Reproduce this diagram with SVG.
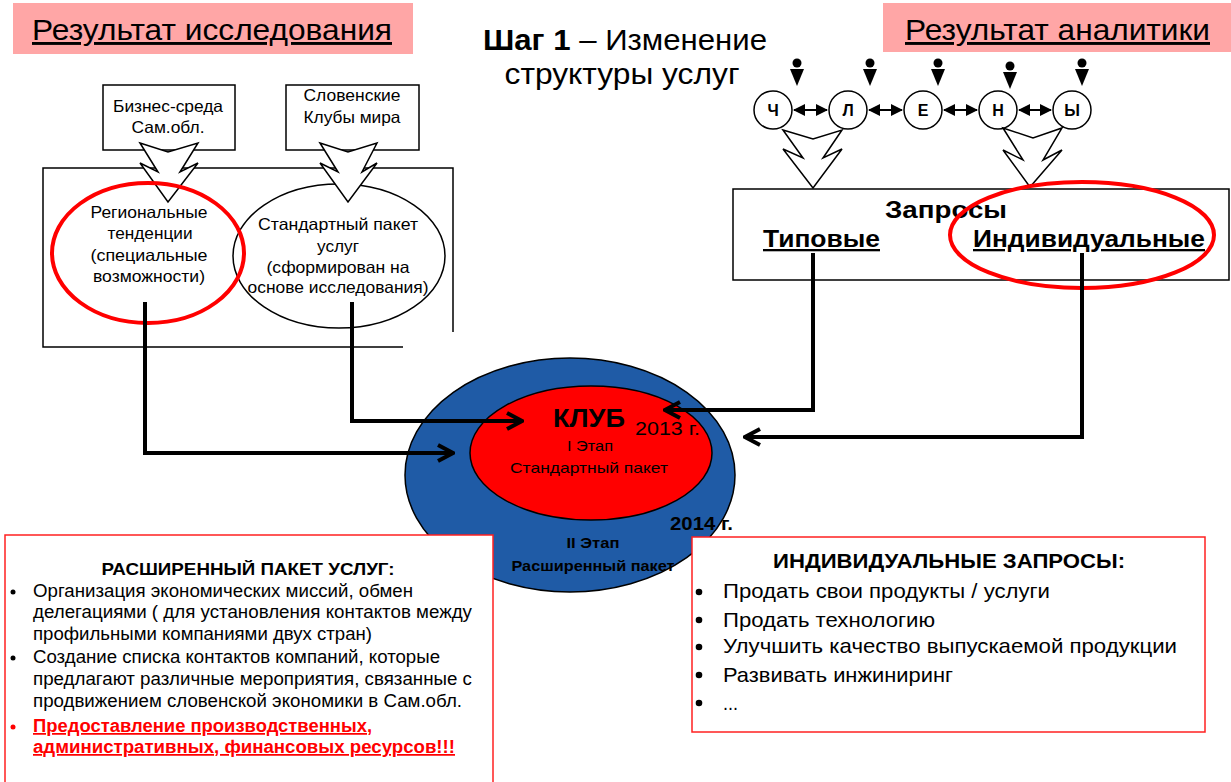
<svg xmlns="http://www.w3.org/2000/svg" width="1231" height="782" viewBox="0 0 1231 782">
<style>
text{font-family:"Liberation Sans",Arial,sans-serif;fill:#000}
.hdr{font-size:29px}
.sm{font-size:16.5px}
.b{font-weight:bold}
.c{text-anchor:middle}
.box{fill:#fff;stroke:#000;stroke-width:1.5}
.thin{fill:none;stroke:#000;stroke-width:1.5}
.blk{fill:#fff;stroke:#000;stroke-width:1.5;stroke-linejoin:miter}
.redring{fill:none;stroke:#ff0000;stroke-width:4}
.conn{fill:none;stroke:#000;stroke-width:4}
.dbl{fill:none;stroke:#000;stroke-width:2}
.circ{fill:#fff;stroke:#000;stroke-width:1.5}
.lst{font-size:17.5px}
.lst2{font-size:21px}
.red{fill:#ff0000}
.panel{fill:#fff;stroke:#ff2020;stroke-width:1.5}
</style>
<defs>
<marker id="ah" markerUnits="userSpaceOnUse" viewBox="0 0 20 20" markerWidth="20" markerHeight="20" refX="18" refY="10" orient="auto">
<path d="M3,2 L18,10 L3,18" fill="none" stroke="#000" stroke-width="4"/>
</marker>
<marker id="sh" markerUnits="userSpaceOnUse" viewBox="0 0 12 12" markerWidth="12" markerHeight="12" refX="11" refY="6" orient="auto-start-reverse">
<path d="M0,0 L12,6 L0,12 Z" fill="#000"/>
</marker>
<g id="person">
<circle cx="0" cy="0" r="4.5" fill="#000"/>
<polygon points="-7,6 7,6 0,23" fill="#000"/>
</g>
</defs>
<rect width="1231" height="782" fill="#fff"/>

<!-- headers -->
<g id="hdr-left">
<rect x="13" y="3" width="400" height="51" fill="#ffa6a6"/>
<text class="hdr" x="32" y="40" textLength="360" lengthAdjust="spacingAndGlyphs" text-decoration="underline">Результат исследования</text>
</g>
<g id="hdr-right">
<rect x="883" y="3" width="348" height="49" fill="#ffa6a6"/>
<text class="hdr" x="905" y="40" textLength="305" lengthAdjust="spacingAndGlyphs" text-decoration="underline">Результат аналитики</text>
</g>
<g id="title">
<text class="hdr c" x="625" y="50" textLength="284" lengthAdjust="spacingAndGlyphs"><tspan class="b">Шаг  1</tspan> – Изменение</text>
<text class="hdr c" x="622" y="84" textLength="235" lengthAdjust="spacingAndGlyphs">структуры услуг</text>
</g>

<!-- left research block -->
<g id="frame-left">
<path class="thin" d="M403,347 H43 V168 H453 V332"/>
</g>
<g id="ellipse-standard">
<ellipse cx="339" cy="256" rx="106" ry="72" class="thin" fill="#fff"/>
</g>
<g id="box-business">
<rect class="box" x="103" y="85" width="132" height="65"/>
<text class="sm c" x="168" y="112" textLength="110" lengthAdjust="spacingAndGlyphs">Бизнес-среда</text>
<text class="sm c" x="168" y="133" textLength="73" lengthAdjust="spacingAndGlyphs">Сам.обл.</text>
</g>
<g id="box-clubs">
<rect class="box" x="286" y="85" width="133" height="65"/>
<text class="sm c" x="352" y="101" textLength="97" lengthAdjust="spacingAndGlyphs">Словенские</text>
<text class="sm c" x="352" y="123" textLength="97" lengthAdjust="spacingAndGlyphs">Клубы мира</text>
</g>
<g id="blockarrows-left">
<polygon class="blk" points="140,143 168,152 198,143 180,172 198,163 168,202 140,163 158,172"/>
<polygon class="blk" points="320,143 348,152 377,143 362,172 377,163 348,202 320,163 338,172"/>
</g>
<g id="node-standard-text">
<text class="sm c" x="338" y="230" textLength="160" lengthAdjust="spacingAndGlyphs">Стандартный пакет</text>
<text class="sm c" x="338" y="252" textLength="42" lengthAdjust="spacingAndGlyphs">услуг</text>
<text class="sm c" x="338" y="273" textLength="143" lengthAdjust="spacingAndGlyphs">(сформирован на</text>
<text class="sm c" x="338" y="293" textLength="181" lengthAdjust="spacingAndGlyphs">основе исследования)</text>
</g>
<g id="node-regional">
<ellipse cx="148" cy="253" rx="96" ry="70" class="redring"/>
<text class="sm c" x="149" y="218" textLength="117" lengthAdjust="spacingAndGlyphs">Региональные</text>
<text class="sm c" x="150" y="239" textLength="85" lengthAdjust="spacingAndGlyphs">тенденции</text>
<text class="sm c" x="149" y="261" textLength="117" lengthAdjust="spacingAndGlyphs">(специальные</text>
<text class="sm c" x="149" y="282" textLength="112" lengthAdjust="spacingAndGlyphs">возможности)</text>
</g>

<!-- right analytics block -->
<g id="persons">
<use href="#person" x="797" y="63"/>
<use href="#person" x="870" y="63"/>
<use href="#person" x="938" y="63"/>
<use href="#person" x="1010" y="66"/>
<use href="#person" x="1082" y="63"/>
</g>
<g id="circle-ch"><circle class="circ" cx="773" cy="110" r="19"/><text class="b c" style="font-size:16px" x="773" y="116">Ч</text></g>
<g id="circle-l"><circle class="circ" cx="848" cy="110" r="19"/><text class="b c" style="font-size:16px" x="848" y="116">Л</text></g>
<g id="circle-e"><circle class="circ" cx="923" cy="110" r="19"/><text class="b c" style="font-size:16px" x="923" y="116">Е</text></g>
<g id="circle-n"><circle class="circ" cx="998" cy="110" r="19"/><text class="b c" style="font-size:16px" x="998" y="116">Н</text></g>
<g id="circle-y"><circle class="circ" cx="1072" cy="110" r="19"/><text class="b c" style="font-size:16px" x="1072" y="116">Ы</text></g>
<g id="box-requests">
<rect class="box" x="733" y="189" width="496" height="91"/>
<text class="b c" x="946" y="218" style="font-size:24px" textLength="122" lengthAdjust="spacingAndGlyphs">Запросы</text>
<text class="b" x="763" y="247" style="font-size:23px" textLength="117" lengthAdjust="spacingAndGlyphs" text-decoration="underline">Типовые</text>
<text class="b" x="973" y="247" style="font-size:23px" textLength="232" lengthAdjust="spacingAndGlyphs" text-decoration="underline">Индивидуальные</text>
</g>
<g id="blockarrows-right">
<polygon class="blk" points="783,130 813,139 842,130 823,158 842,149 813,188 783,149 803,158"/>
<polygon class="blk" points="1003,128 1033,138 1062,128 1043,160 1062,150 1030,187 1003,150 1023,160"/>
</g>
<g id="ring-individual">
<ellipse cx="1082" cy="235" rx="132" ry="53" class="redring"/>
</g>

<!-- club -->
<g id="node-club">
<ellipse cx="570" cy="475" rx="165" ry="117" fill="#1f5ba6" stroke="#000" stroke-width="1.5"/>
<ellipse cx="591" cy="453" rx="121" ry="67" fill="#ff0000" stroke="#000" stroke-width="1.5"/>
<text class="b c" x="589" y="427" style="font-size:26px" textLength="72" lengthAdjust="spacingAndGlyphs">КЛУБ</text>
<text x="635" y="435" style="font-size:18px" textLength="65" lengthAdjust="spacingAndGlyphs">2013 г.</text>
<text class="c" x="590" y="451" style="font-size:15px" textLength="46" lengthAdjust="spacingAndGlyphs">I Этап</text>
<text class="c" x="589" y="473" style="font-size:15px" textLength="158" lengthAdjust="spacingAndGlyphs">Стандартный пакет</text>
<text class="b" x="670" y="530" style="font-size:18px" textLength="63" lengthAdjust="spacingAndGlyphs">2014 г.</text>
<text class="b c" x="593" y="548" style="font-size:15px" textLength="53" lengthAdjust="spacingAndGlyphs">II Этап</text>
<text class="b c" x="593" y="571" style="font-size:15px" textLength="163" lengthAdjust="spacingAndGlyphs">Расширенный пакет</text>
</g>

<!-- connectors -->
<g id="connectors">
<polyline class="conn" points="145,302 145,453 453,453" marker-end="url(#ah)"/>
<polyline class="conn" points="352,302 352,421 522,421" marker-end="url(#ah)"/>
<polyline class="conn" points="813,253 813,410 665,410" marker-end="url(#ah)"/>
<polyline class="conn" points="1082,253 1082,437 745,437" marker-end="url(#ah)"/>
<line class="dbl" x1="794" y1="110" x2="827" y2="110" marker-start="url(#sh)" marker-end="url(#sh)"/>
<line class="dbl" x1="869" y1="110" x2="902" y2="110" marker-start="url(#sh)" marker-end="url(#sh)"/>
<line class="dbl" x1="944" y1="110" x2="977" y2="110" marker-start="url(#sh)" marker-end="url(#sh)"/>
<line class="dbl" x1="1019" y1="110" x2="1051" y2="110" marker-start="url(#sh)" marker-end="url(#sh)"/>
</g>

<!-- bottom panels -->
<g id="panel-extended">
<rect class="panel" x="5" y="535" width="488" height="260"/>
<text class="b c" x="248" y="575" style="font-size:17px" textLength="293" lengthAdjust="spacingAndGlyphs">РАСШИРЕННЫЙ ПАКЕТ УСЛУГ:</text>
<circle cx="13" cy="592" r="2.5"/>
<text x="33" y="597" class="lst" textLength="380" lengthAdjust="spacingAndGlyphs">Организация экономических миссий, обмен</text>
<text x="33" y="618" class="lst" textLength="439" lengthAdjust="spacingAndGlyphs">делегациями ( для установления контактов между</text>
<text x="33" y="640" class="lst" textLength="339" lengthAdjust="spacingAndGlyphs">профильными компаниями двух стран)</text>
<circle cx="13" cy="658" r="2.5"/>
<text x="33" y="663" class="lst" textLength="407" lengthAdjust="spacingAndGlyphs">Создание списка контактов компаний, которые</text>
<text x="33" y="685" class="lst" textLength="439" lengthAdjust="spacingAndGlyphs">предлагают различные мероприятия, связанные с</text>
<text x="33" y="707" class="lst" textLength="429" lengthAdjust="spacingAndGlyphs">продвижением словенской экономики в Сам.обл.</text>
<circle cx="13" cy="727" r="2.5" class="red"/>
<text x="33" y="732" class="lst b red" textLength="339" lengthAdjust="spacingAndGlyphs" text-decoration="underline">Предоставление производственных,</text>
<text x="33" y="753" class="lst b red" textLength="422" lengthAdjust="spacingAndGlyphs" text-decoration="underline">административных, финансовых ресурсов!!!</text>
</g>
<g id="panel-individual">
<rect class="panel" x="692" y="537" width="513" height="195"/>
<text class="b c" x="949" y="568" style="font-size:20px" textLength="352" lengthAdjust="spacingAndGlyphs">ИНДИВИДУАЛЬНЫЕ ЗАПРОСЫ:</text>
<circle cx="699" cy="592" r="3.3"/>
<text x="723" y="598" class="lst2" textLength="327" lengthAdjust="spacingAndGlyphs">Продать свои продукты / услуги</text>
<circle cx="699" cy="620" r="3.3"/>
<text x="723" y="627" class="lst2" textLength="212" lengthAdjust="spacingAndGlyphs">Продать технологию</text>
<circle cx="699" cy="647" r="3.3"/>
<text x="723" y="653" class="lst2" textLength="454" lengthAdjust="spacingAndGlyphs">Улучшить качество выпускаемой продукции</text>
<circle cx="699" cy="675" r="3.3"/>
<text x="723" y="682" class="lst2" textLength="230" lengthAdjust="spacingAndGlyphs">Развивать инжиниринг</text>
<circle cx="699" cy="703" r="3.3"/>
<text x="723" y="710" class="lst2" textLength="15" lengthAdjust="spacingAndGlyphs">...</text>
</g>
</svg>
